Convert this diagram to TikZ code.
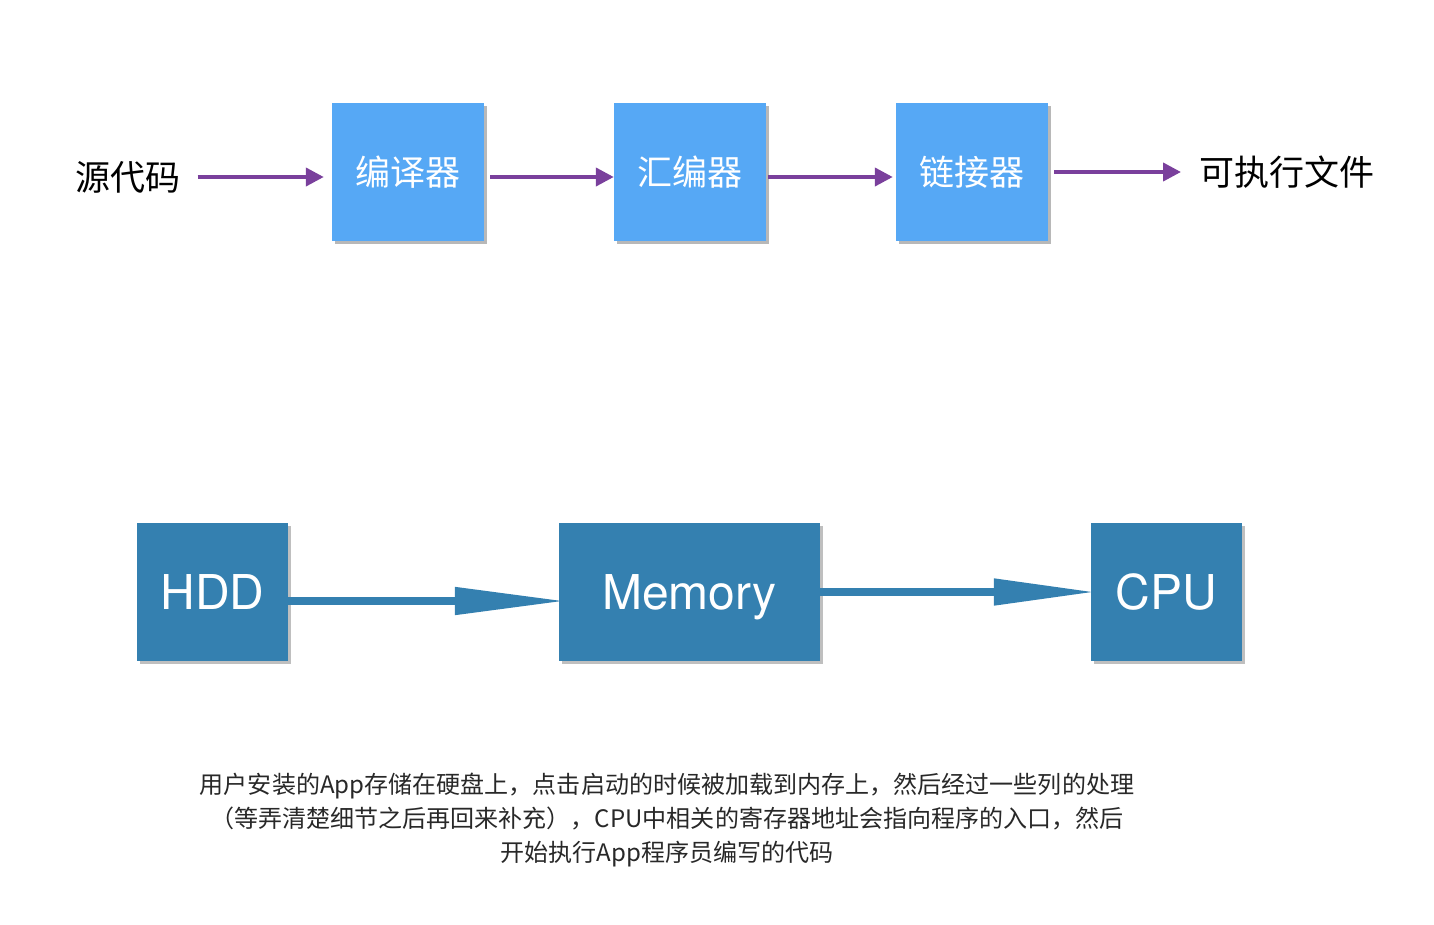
\documentclass[tikz,border=0pt]{standalone}
\usepackage{fontspec}
\setmainfont{TeX Gyre Heros}
\newfontfamily\cjk{Noto Sans CJK SC}
\usetikzlibrary{arrows.meta,shadows,calc}
\definecolor{boxblue}{RGB}{86,168,245}
\definecolor{deepblue}{RGB}{52,128,176}
\definecolor{arrowpurple}{RGB}{122,64,156}
\definecolor{captiongray}{RGB}{40,40,40}
\tikzset{
  toptext/.style={inner sep=0pt, text=black, font=\cjk\fontsize{35}{42}\selectfont},
  topbox/.style={fill=boxblue, minimum width=152pt, minimum height=138pt, inner sep=0pt,
    text=white, font=\cjk\fontsize{35}{42}\selectfont,
    drop shadow={shadow xshift=2.5pt, shadow yshift=-2.5pt, fill=black, opacity=0.28}},
  botbox/.style={fill=deepblue, minimum height=138pt, inner sep=0pt,
    text height=34.5pt, text depth=0pt,
    text=white, font=\fontsize{48}{56}\selectfont,
    drop shadow={shadow xshift=2.5pt, shadow yshift=-2.5pt, fill=black, opacity=0.25}},
  parrow/.style={draw=arrowpurple, line width=4pt, -{Triangle[length=18pt,width=18pt]}},
  barrow/.style={draw=deepblue, line width=8pt},
  caption/.style={align=center, text=captiongray, font=\cjk\fontsize{24.05}{34}\selectfont}
}
\begin{document}
\begin{tikzpicture}[x=1pt,y=-1pt]
\useasboundingbox (0,0) rectangle (1434,924);
% top row
\node[toptext] (src) at (128,177) {源代码};
\node[topbox] (b1) at (408,172) {编译器};
\node[topbox] (b2) at (690,172) {汇编器};
\node[topbox] (b3) at (972,172) {链接器};
\node[toptext, anchor=west] (exe) at (1199,172) {可执行文件};
\draw[parrow, shorten <=17pt, shorten >=8pt] (src.east) -- (src.east -| b1.west);
\draw[parrow, shorten <=6pt, shorten >=0pt] ([yshift=-5pt]b1.east) -- ([yshift=-5pt]b2.west);
\draw[parrow, shorten <=2pt, shorten >=3pt] ([yshift=-5pt]b2.east) -- ([yshift=-5pt]b3.west);
\draw[parrow, shorten <=6pt, shorten >=18pt] (b3.east) -- (exe.west);
% bottom row
\node[botbox, minimum width=151pt] (hdd) at (212.5,592) {HDD};
\node[botbox, minimum width=261pt] (mem) at (689.5,592) {Memory};
\node[botbox, minimum width=151pt] (cpu) at (1166.5,592) {CPU};
\draw[barrow, -{Triangle[length=111pt,width=26pt]}, shorten <=-5pt, shorten >=-7pt] ([yshift=-9pt]hdd.east) -- ([yshift=-9pt]mem.west);
\draw[barrow, -{Triangle[length=102pt,width=25pt]}, shorten <=-2pt, shorten >=-5pt] (mem.east) -- (cpu.west);
% caption
\node[caption] (cap) at (667,820) {用户安装的App存储在硬盘上，点击启动的时候被加载到内存上，然后经过一些列的处理\\（等弄清楚细节之后再回来补充），CPU中相关的寄存器地址会指向程序的入口，然后\\开始执行App程序员编写的代码};
\end{tikzpicture}
\end{document}
